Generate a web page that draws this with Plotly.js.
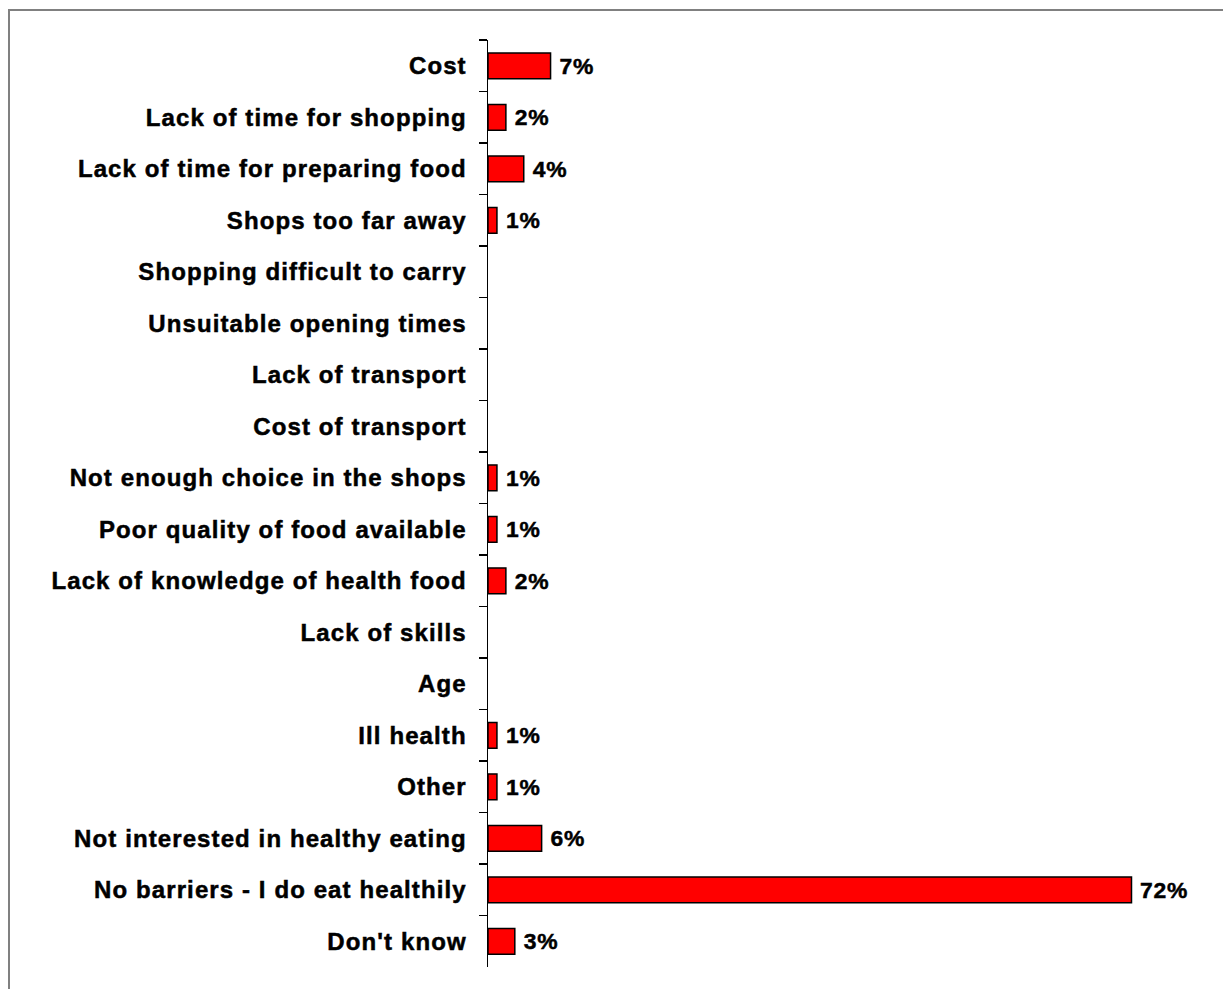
<!DOCTYPE html>
<html>
<head>
<meta charset="utf-8">
<script src="https://cdn.plot.ly/plotly-3.0.1.min.js"></script>
<style>
html,body{margin:0;padding:0;background:#fff;}
#chart{width:1223px;height:989px;}
#chart .ytick text{letter-spacing:1.1px; stroke:#000; stroke-width:0.5px;}
#chart text.bartext{letter-spacing:0.8px; stroke:#000; stroke-width:0.5px;}
</style>
</head>
<body>
<div id="chart"></div>
<script>
const categories = [
  "Cost",
  "Lack of time for shopping",
  "Lack of time for preparing food",
  "Shops too far away",
  "Shopping difficult to carry",
  "Unsuitable opening times",
  "Lack of transport",
  "Cost of transport",
  "Not enough choice in the shops",
  "Poor quality of food available",
  "Lack of knowledge of health food",
  "Lack of skills",
  "Age",
  "Ill health",
  "Other",
  "Not interested in healthy eating",
  "No barriers - I do eat healthily",
  "Don't know"
];
// null = no bar / no label shown in the reference
const values = [7, 2, 4, 1, null, null, null, null, 1, 1, 2, null, null, 1, 1, 6, 72, 3];
const labels = values.map(v => v ? "\u00a0" + v + "%" : "");

const FONT = "Liberation Sans, Arial, sans-serif";

const trace = {
  type: "bar",
  orientation: "h",
  x: values,
  y: categories,
  text: labels,
  textposition: "outside",
  cliponaxis: false,
  textfont: {family: FONT, size: 24, color: "#000", weight: "bold"},
  marker: {color: "#ff0000", line: {color: "#000000", width: 1.5}},
  width: 0.5,
  hoverinfo: "x+y"
};

const layout = {
  width: 1223,
  height: 989,
  margin: {l: 488, r: 20, t: 40, b: 22},
  paper_bgcolor: "#ffffff",
  plot_bgcolor: "#ffffff",
  showlegend: false,
  font: {family: FONT, color: "#000"},
  xaxis: {
    range: [0, 80],
    visible: false,
    showgrid: false,
    zeroline: false,
    fixedrange: true
  },
  yaxis: {
    type: "category",
    autorange: "reversed",
    showline: true,
    linecolor: "#000",
    linewidth: 1.5,
    ticks: "outside",
    tickson: "boundaries",
    ticklen: 8,
    tickwidth: 1.5,
    tickcolor: "#000",
    ticklabelstandoff: 15,
    tickfont: {family: FONT, size: 24, color: "#000", weight: "bold"},
    showgrid: false,
    zeroline: false,
    fixedrange: true
  },
  shapes: [{
    type: "rect",
    xref: "paper", yref: "paper",
    x0: (9 - 488) / 715, x1: 1.1,
    y0: -0.1, y1: 1 + 30 / 927,
    line: {color: "#808080", width: 2},
    fillcolor: "rgba(0,0,0,0)",
    layer: "below"
  }]
};

Plotly.newPlot("chart", [trace], layout, {displayModeBar: false, staticPlot: true});
</script>
</body>
</html>
